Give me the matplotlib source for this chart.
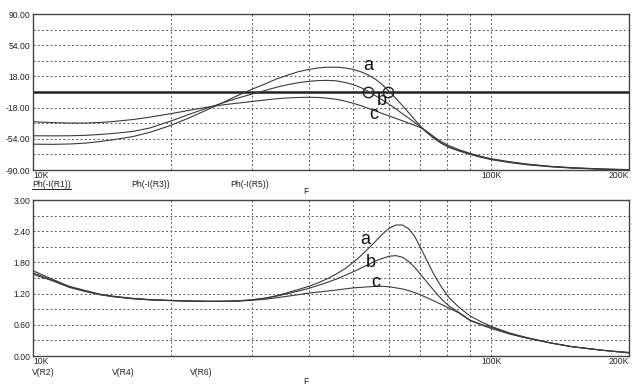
import matplotlib
matplotlib.use("Agg")
import matplotlib.pyplot as plt
from matplotlib.lines import Line2D
from matplotlib.ticker import NullLocator

# ---- data (frequency in kHz) ----
freq_khz = [10, 11, 12, 13, 14, 15, 16.5, 18, 20, 22, 24, 26, 28, 30, 32, 34,
            36, 38, 40, 42, 44, 46, 48, 50, 52, 54, 56, 58, 60, 62, 64, 66,
            68, 70, 72, 75, 78, 81, 85, 90, 95, 100, 110, 120, 135, 150, 175, 200]

# phase of -I(R1), -I(R3), -I(R5)  (curves a, b, c)
phase_a = [-60.2, -60.4, -60.0, -59.0, -57.2, -55.0, -51.5, -46.5, -38.5, -29.5,
           -20.5, -12.0, -4.0, 3.0, 9.0, 15.0, 19.5, 23.5, 26.0, 27.8,
           28.6, 28.6, 27.8, 26.0, 23.3, 19.5, 14.5, 8.0, 0.5, -7.5,
           -15.5, -23.5, -31.5, -39.0, -45.5, -53.5, -59.5, -64.0, -68.0, -72.0,
           -75.3, -78.0, -81.5, -84.0, -86.3, -87.8, -89.2, -90.0]
phase_b = [-50.5, -50.6, -50.5, -50.0, -49.0, -47.8, -45.5, -41.5, -33.5, -25.5,
           -18.5, -12.5, -7.0, -2.5, 1.5, 5.5, 8.5, 10.8, 12.3, 13.2,
           13.4, 12.8, 11.0, 8.5, 5.0, 0.5, -4.5, -9.5, -14.5, -19.5,
           -25.0, -30.0, -35.0, -40.0, -45.5, -53.0, -59.0, -63.5, -67.5, -71.5,
           -74.8, -77.5, -81.0, -83.5, -86.0, -87.5, -89.0, -89.8]
phase_c = [-34.3, -35.3, -35.8, -35.8, -35.2, -34.0, -31.8, -29.0, -25.0, -21.0,
           -17.5, -14.8, -12.8, -11.0, -9.3, -7.8, -6.8, -6.3, -6.1, -6.3,
           -7.2, -8.5, -10.5, -13.0, -15.8, -19.0, -22.0, -25.0, -27.8, -30.5,
           -33.2, -35.8, -38.3, -41.0, -44.5, -51.5, -57.5, -62.0, -66.5, -70.8,
           -74.2, -77.0, -80.5, -83.2, -85.8, -87.3, -88.8, -89.5]

# magnitude of V(R2), V(R4), V(R6)  (curves a, b, c)
mag_a = [1.64, 1.48, 1.34, 1.26, 1.19, 1.15, 1.11, 1.085, 1.07, 1.06,
         1.055, 1.055, 1.06, 1.08, 1.11, 1.16, 1.22, 1.28, 1.34, 1.41,
         1.49, 1.58, 1.68, 1.80, 1.93, 2.07, 2.21, 2.35, 2.46, 2.52,
         2.52, 2.45, 2.31, 2.10, 1.88, 1.57, 1.32, 1.12, 0.94, 0.77,
         0.66, 0.57, 0.44, 0.35, 0.25, 0.18, 0.11, 0.06]
mag_b = [1.60, 1.46, 1.33, 1.25, 1.18, 1.14, 1.105, 1.08, 1.065, 1.055,
         1.05, 1.05, 1.06, 1.08, 1.11, 1.15, 1.20, 1.25, 1.30, 1.36,
         1.42, 1.48, 1.55, 1.62, 1.69, 1.76, 1.83, 1.88, 1.92, 1.93,
         1.90, 1.82, 1.71, 1.58, 1.45, 1.26, 1.09, 0.96, 0.84, 0.69,
         0.61, 0.55, 0.43, 0.35, 0.25, 0.18, 0.11, 0.06]
mag_c = [1.57, 1.45, 1.32, 1.24, 1.18, 1.14, 1.10, 1.08, 1.065, 1.055,
         1.05, 1.05, 1.055, 1.07, 1.09, 1.12, 1.15, 1.18, 1.21, 1.23,
         1.25, 1.27, 1.29, 1.31, 1.32, 1.33, 1.34, 1.34, 1.33, 1.31,
         1.29, 1.26, 1.22, 1.18, 1.13, 1.06, 0.99, 0.92, 0.83, 0.68,
         0.60, 0.53, 0.42, 0.34, 0.25, 0.18, 0.11, 0.07]

grid_khz = [20, 30, 40, 50, 60, 70, 80, 90, 100]
phase_ticks = [90, 54, 18, -18, -54, -90]
phase_grid = [72, 54, 36, 18, -18, -36, -54, -72]
mag_ticks = [0.0, 0.6, 1.2, 1.8, 2.4, 3.0]
mag_grid = [0.3, 0.6, 0.9, 1.2, 1.5, 1.8, 2.1, 2.4, 2.7]
xtick_khz = [10, 100, 200]
xtick_labels = ["10K", "100K", "200K"]

# cursor circles on the 0 deg line (b and a crossings)
cursor_khz = [53.9, 59.6]
cursor_deg = [0, 0]

top_traces = ["Ph(-I(R1))", "Ph(-I(R3))", "Ph(-I(R5))"]
bot_traces = ["V(R2)", "V(R4)", "V(R6)"]
curve_names = ["a", "b", "c"]
top_label_pos = [(53.9, 30.5), (57.6, -10.0), (55.4, -26.0)]
bot_label_pos = [(53.0, 2.25), (54.5, 1.80), (56.0, 1.41)]

plt.rcParams["font.family"] = ["Liberation Sans", "DejaVu Sans"]
plt.rcParams["axes.unicode_minus"] = False

W, H = 639, 391
fig = plt.figure(figsize=(W / 100, H / 100), dpi=100)
fig.patch.set_facecolor("white")

def fx(x):
    return x / W

def fy(y):
    return 1 - y / H

f_hz = [f * 1e3 for f in freq_khz]
grid_c = "#5a5a5a"
dots = (0, (2.0, 2.4))
line_c = "#3a3a3a"
small = 6.2


def setup(ax, ylim, ticks, grid_vals):
    ax.set_xscale("log")
    ax.set_xlim(1e4, 2e5)
    ax.set_ylim(*ylim)
    ax.xaxis.set_minor_locator(NullLocator())
    for f in grid_khz:
        ax.axvline(f * 1e3, color=grid_c, lw=0.7, ls=dots, zorder=1)
    for v in grid_vals:
        ax.axhline(v, color=grid_c, lw=0.7, ls=dots, zorder=1)
    ax.set_yticks(ticks)
    ax.set_yticklabels([f"{t:.2f}" for t in ticks])
    ax.set_xticks([f * 1e3 for f in xtick_khz])
    ax.set_xticklabels(xtick_labels)
    labs = ax.get_xticklabels()
    labs[0].set_ha("left")
    labs[2].set_ha("right")
    ax.tick_params(length=0, labelsize=small, pad=2, colors="#222222")
    ax.tick_params(axis="x", pad=0.5)
    for s in ax.spines.values():
        s.set_color("#444444")
        s.set_linewidth(1.0)


# ---- top: phase ----
ax1 = fig.add_axes([fx(33), fy(170), fx(596), 156 / H])
setup(ax1, (-90, 90), phase_ticks, phase_grid)
ax1.axhline(0, color="#222222", lw=1.8, zorder=2)
for vals in (phase_a, phase_b, phase_c):
    ax1.plot(f_hz, vals, color=line_c, lw=0.8, zorder=3)
ax1.plot([f * 1e3 for f in cursor_khz], cursor_deg, "o", mfc="none",
         mec="#222222", ms=7.5, mew=1.0, zorder=4)
for name, (f, v) in zip(curve_names, top_label_pos):
    ax1.text(f * 1e3, v, name, fontsize=13, ha="center", va="center", color="#111111")

# ---- bottom: magnitude ----
ax2 = fig.add_axes([fx(33), fy(356), fx(596), 156 / H])
setup(ax2, (0, 3), mag_ticks, mag_grid)
for vals in (mag_a, mag_b, mag_c):
    ax2.plot(f_hz, vals, color=line_c, lw=0.8, zorder=3)
for name, (f, v) in zip(curve_names, bot_label_pos):
    ax2.text(f * 1e3, v, name, fontsize=13, ha="center", va="center", color="#111111")

# ---- trace names and axis labels ----
txt = dict(fontsize=small, color="#222222", va="center", ha="left")
first = None
for x, name in zip([32, 131, 230], top_traces):
    t = fig.text(fx(x), fy(184.5), name, **txt)
    if first is None:
        first = t
for x, name in zip([32, 112, 190], bot_traces):
    fig.text(fx(x), fy(372.5), name, **txt)
fig.text(fx(306), fy(192), "F", fontsize=small, color="#222222", ha="center", va="center")
fig.text(fx(306), fy(382), "F", fontsize=small, color="#222222", ha="center", va="center")

# underline the selected trace name
fig.canvas.draw()
bb = first.get_window_extent().transformed(fig.transFigure.inverted())
fig.add_artist(Line2D([bb.x0, bb.x1], [bb.y0 - 0.5 / H, bb.y0 - 0.5 / H],
                      transform=fig.transFigure, color="#222222", lw=0.7))

fig.savefig("out.png", dpi=100)
